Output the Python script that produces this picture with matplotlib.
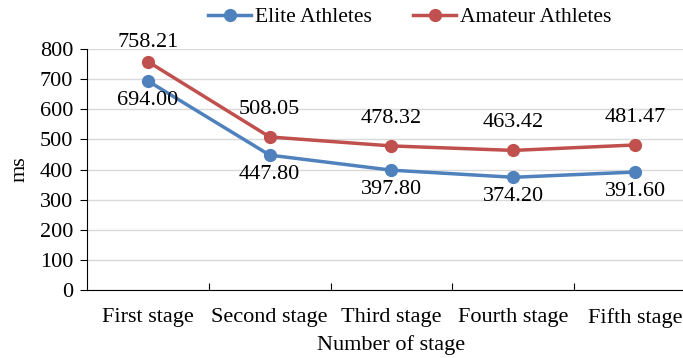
import matplotlib
matplotlib.use('Agg')
import matplotlib.pyplot as plt

plt.rcParams['font.family'] = ['Liberation Serif', 'DejaVu Serif']

stages = ['First stage', 'Second stage', 'Third stage', 'Fourth stage', 'Fifth stage']
elite = [694.00, 447.80, 397.80, 374.20, 391.60]
amateur = [758.21, 508.05, 478.32, 463.42, 481.47]

blue = '#4F81BD'
red = '#C0504D'
fs = 16

fig = plt.figure(figsize=(6.83, 3.58), dpi=100)
ax = fig.add_axes([0.1274, 0.19, 0.8916, 0.673])

x = list(range(len(stages)))
ax.plot(x, elite, color=blue, lw=2.5, marker='o', ms=8.5, label='Elite Athletes', zorder=3)
ax.plot(x, amateur, color=red, lw=2.5, marker='o', ms=8.5, label='Amateur Athletes', zorder=3)

# value labels: elite below the points, amateur above
for xi, v in zip(x, elite):
    ax.annotate(f'{v:.2f}', (xi, v), xytext=(0, -14), textcoords='offset points',
                ha='center', va='center', fontsize=fs)
for xi, v in zip(x, amateur):
    off = 14 if v > 700 else 20
    ax.annotate(f'{v:.2f}', (xi, v), xytext=(0, off), textcoords='offset points',
                ha='center', va='center', fontsize=fs)

ax.set_xlim(-0.5, len(stages) - 0.5)
ax.set_ylim(0, 800)
ax.set_yticks(range(0, 801, 100))
ax.yaxis.grid(True, color='#D9D9D9', lw=1)
ax.set_axisbelow(True)

# category separators on the x axis, names centered between them
ax.set_xticks([i + 0.5 for i in range(len(stages) - 1)])
ax.set_xticklabels([])
ax.tick_params(axis='x', which='major', direction='in', length=5, color='black', width=0.8)
ax.set_xticks(x, minor=True)
ax.set_xticklabels(stages, minor=True, fontsize=fs)
ax.tick_params(axis='x', which='minor', length=0, pad=13)
ax.tick_params(axis='y', direction='out', length=5, labelsize=fs, pad=5, width=0.8)

for s in ['top', 'right']:
    ax.spines[s].set_visible(False)
for s in ['left', 'bottom']:
    ax.spines[s].set_color('black')
    ax.spines[s].set_linewidth(0.8)

ax.set_ylabel('ms', fontsize=fs, labelpad=7)
ax.set_xlabel('Number of stage', fontsize=fs, labelpad=5)

fig.legend(loc='center left', bbox_to_anchor=(208 / 683, 1 - 17 / 358), ncol=2, frameon=False,
           fontsize=15.5, handlelength=2.0, handletextpad=0.2, columnspacing=1.9,
           borderpad=0, borderaxespad=0)

fig.savefig('out.png', dpi=100)
